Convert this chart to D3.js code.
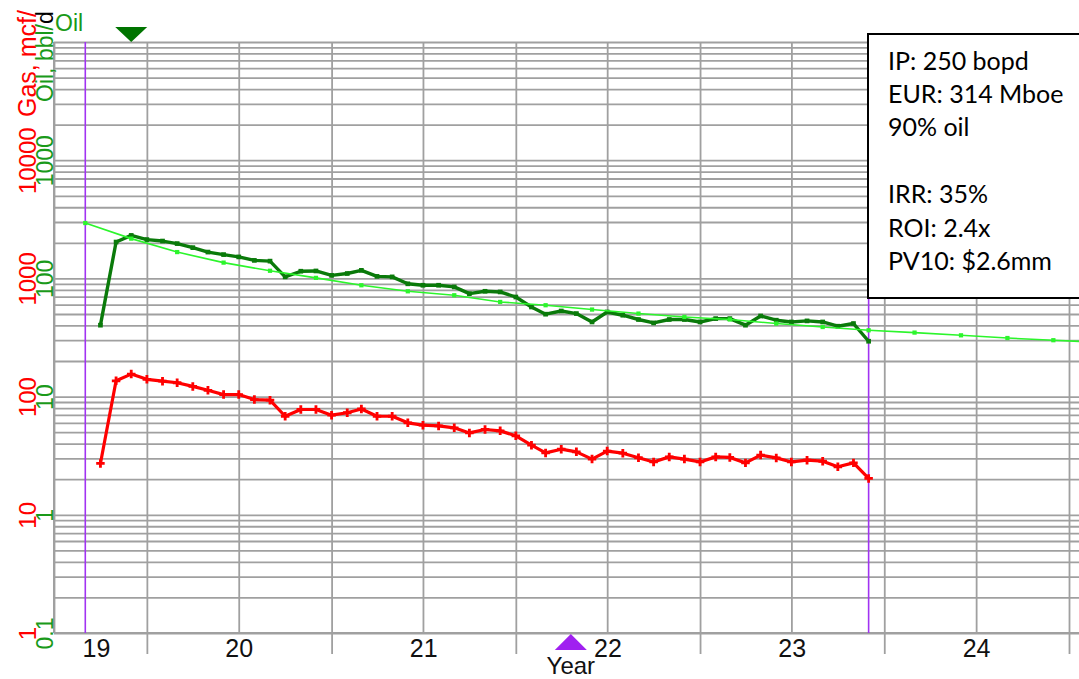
<!DOCTYPE html>
<html>
<head>
<meta charset="utf-8">
<script src="https://cdn.jsdelivr.net/npm/d3@7"></script>
<style>
  body { margin: 0; background: #fff; overflow: hidden; }
  svg { display: block; font-family: "Liberation Sans", Arial, sans-serif; }
</style>
</head>
<body>
<div id="chart"></div>
<script>
// monthly history, Oct 2019 .. Dec 2023
const historyStart = new Date(2019, 9, 1);
const historyStop = new Date(2024, 0, 1);
const oilRate = [40.2, 203, 231, 213, 207, 197, 182, 167, 159, 152, 142, 140,
  103, 115, 115.6, 106, 110, 117, 104, 103, 90, 87.5, 87.5, 84.7,
  74.3, 77.8, 76.8, 69.6, 57.3, 49.8, 53, 50.4, 42.8, 52, 48.8, 44.9,
  42, 44.9, 44.9, 42.8, 45.7, 45.7, 40.2, 48.1, 44.3, 42.8, 43.7, 42.8,
  39.4, 41.5, 29.4];
const gasRate = [27.2, 136, 155, 140, 135, 131, 122, 113, 104, 104, 94.4, 93.3,
  68.2, 77.8, 77.8, 69.6, 73, 78.5, 68.2, 68.2, 60, 57.3, 56.5, 54.4,
  49.3, 52.7, 51.3, 46.6, 38.8, 33.4, 35.9, 34.1, 29.6, 34.6, 33.2, 30.4,
  28, 30.9, 29.6, 28, 30.9, 30.6, 27.5, 32, 30.3, 28, 29, 28.4,
  25.5, 27.5, 20.3];

// quarterly type curve, Sep 2019 .. Mar 2025
const forecastStart = new Date(2019, 8, 1);
const forecastStop = new Date(2025, 3, 1);
const forecastRate = [294, 217, 167, 136, 116, 101, 87.5, 77.8, 72, 63.2, 59.3, 54.5,
  50.4, 47.2, 44.9, 41.5, 38.8, 36.4, 34.8, 33, 31.3, 30, 28.8];

const oilTicks = [0.1, 1, 10, 100, 1000];
const gasTicks = [1, 10, 100, 1000, 10000];
const yearLabels = [2019, 2020, 2021, 2022, 2023, 2024];
const peakDate = new Date(2019, 11, 1);
const cursorDate = new Date(2022, 3, 20);
const statsLines = ["IP: 250 bopd", "EUR: 314 Mboe", "90% oil", "", "IRR: 35%", "ROI: 2.4x", "PV10: $2.6mm"];

const W = 1079, H = 679;
const plotL = 54, plotT = 42, plotB = 633, plotR = 1079;

const svg = d3.select("#chart").append("svg")
    .attr("width", W)
    .attr("height", H);

const x = d3.scaleTime()
    .domain([new Date(2019, 6, 1), new Date(2025, 0, 1)])
    .range([plotL, 1069]);
const yOil = d3.scaleLog().domain([0.1, 10000]).range([plotB, plotT]);
const yGas = d3.scaleLog().domain([1, 100000]).range([plotB, plotT]);

const gridColor = "#a0a0a0";

// horizontal log grid
const gridVals = [];
[0.1, 1, 10, 100, 1000].forEach(d => {
    for (let k = 1; k < 10; k++) gridVals.push(k * d);
});
gridVals.push(10000);

svg.append("g")
    .attr("transform", `translate(${plotL},0)`)
    .call(d3.axisLeft(yOil).tickValues(gridVals).tickSize(-(plotR - plotL)).tickFormat(""))
    .call(g => g.select(".domain").remove())
    .call(g => g.selectAll("line").attr("stroke", gridColor).attr("stroke-width", 1.8));

// vertical grid every half year
const halfYears = d3.timeMonth.range(new Date(2019, 6, 1), new Date(2025, 1, 1), 6);
svg.append("g")
    .attr("transform", `translate(0,${plotB})`)
    .call(d3.axisBottom(x).tickValues(halfYears).tickSize(-(plotB - plotT)).tickFormat(""))
    .call(g => g.select(".domain").remove())
    .call(g => g.selectAll("line").attr("stroke", gridColor).attr("stroke-width", 1.8));

// year ticks below the axis
const yearStarts = d3.timeYear.range(new Date(2020, 0, 1), new Date(2025, 1, 1));
svg.append("g")
    .attr("transform", `translate(0,${plotB})`)
    .call(d3.axisBottom(x).tickValues(yearStarts).tickSize(21).tickFormat(""))
    .call(g => g.select(".domain").remove())
    .call(g => g.selectAll("line").attr("stroke", gridColor).attr("stroke-width", 1.8));

// axis lines
svg.append("line").attr("x1", plotL).attr("x2", plotR).attr("y1", plotB).attr("y2", plotB)
    .attr("stroke", gridColor).attr("stroke-width", 2);
svg.append("line").attr("x1", plotL).attr("x2", plotL).attr("y1", plotT).attr("y2", plotB)
    .attr("stroke", gridColor).attr("stroke-width", 2);

// production start / today markers
[new Date(2019, 8, 1), new Date(2023, 11, 1)].forEach(d => {
    svg.append("line")
        .attr("x1", x(d)).attr("x2", x(d))
        .attr("y1", plotT).attr("y2", plotB)
        .attr("stroke", "#a133f2").attr("stroke-width", 1.6);
});

// left axes, rotated labels
function rateAxis(scale, ticks, xPos, color, size) {
    svg.append("g")
        .attr("transform", `translate(${xPos},0)`)
        .call(d3.axisLeft(scale).tickValues(ticks).tickSize(0).tickFormat(d3.format("~g")))
        .call(g => g.select(".domain").remove())
        .call(g => g.selectAll("text")
            .attr("x", 0).attr("y", 0).attr("dy", 0)
            .attr("transform", "rotate(-90)")
            .attr("text-anchor", "middle")
            .attr("fill", color)
            .attr("font-size", size)
            .attr("font-family", "Liberation Sans, Arial, sans-serif"));
}
rateAxis(yGas, gasTicks, 36, "#ff0000", 24);
rateAxis(yOil, oilTicks, 53, "#1a9a1a", 23);

// titles (the top of the gas title runs off the canvas, as in the source)
svg.append("text")
    .attr("transform", "translate(36,117) rotate(-90)")
    .attr("fill", "#ff0000")
    .attr("font-size", 25)
    .text("Gas, mcf/");

const oilTitle = svg.append("text")
    .attr("transform", "translate(53,102) rotate(-90)")
    .attr("fill", "#1a9a1a")
    .attr("font-size", 23);
oilTitle.append("tspan").text("Oil, bbl/");
oilTitle.append("tspan").attr("fill", "#000").text("d");

svg.append("text")
    .attr("x", 55).attr("y", 31)
    .attr("fill", "#1a9a1a")
    .attr("font-size", 23)
    .text("Oil");

// year labels centred on the visible part of each year
const [d0, d1] = x.domain();
svg.append("g").selectAll("text")
    .data(yearLabels)
    .join("text")
    .attr("x", yr => {
        const a = Math.max(x(new Date(yr, 0, 1)), x(d0));
        const b = Math.min(x(new Date(yr + 1, 0, 1)), x(d1));
        return (a + b) / 2 - (yr === 2019 ? 4 : 0);
    })
    .attr("y", 657)
    .attr("text-anchor", "middle")
    .attr("font-size", 25)
    .attr("fill", "#111")
    .text(yr => String(yr).slice(2));

svg.append("text")
    .attr("x", x(cursorDate)).attr("y", 674)
    .attr("text-anchor", "middle")
    .attr("font-size", 24)
    .attr("fill", "#111")
    .text("Year");

// series
const histDates = d3.timeMonth.range(historyStart, historyStop);
const oilData = histDates.map((d, i) => ({ date: d, v: oilRate[i] }));
const gasData = histDates.map((d, i) => ({ date: d, v: gasRate[i] }));
const fcDates = d3.timeMonth.range(forecastStart, forecastStop, 3);
const fcData = fcDates.map((d, i) => ({ date: d, v: forecastRate[i] }));

function drawSeries(data, scale, color, width, symbol, size) {
    const line = d3.line()
        .x(d => x(d.date))
        .y(d => scale(d.v));
    svg.append("path")
        .datum(data)
        .attr("fill", "none")
        .attr("stroke", color)
        .attr("stroke-width", width)
        .attr("stroke-linejoin", "round")
        .attr("d", line);
    svg.append("g").selectAll("path")
        .data(data)
        .join("path")
        .attr("transform", d => `translate(${x(d.date)},${scale(d.v)})`)
        .attr("d", d3.symbol(symbol, size))
        .attr("fill", color);
}

drawSeries(gasData, yGas, "#ff0000", 3.2, d3.symbolCross, 40);
drawSeries(oilData, yOil, "#0a7a0a", 3.4, d3.symbolSquare, 22);
drawSeries(fcData, yOil, "#2cf52c", 1.6, d3.symbolSquare, 18);

// peak / cursor triangles
const px = x(peakDate);
svg.append("path")
    .attr("d", `M${px - 16},27L${px + 16},27L${px},42Z`)
    .attr("fill", "#007400");
const cx = x(cursorDate);
svg.append("path")
    .attr("d", `M${cx - 16},650L${cx + 16},650L${cx},634Z`)
    .attr("fill", "#a020f0");

// stats box
svg.append("rect")
    .attr("x", 868).attr("y", 34)
    .attr("width", 240).attr("height", 264)
    .attr("fill", "#fff")
    .attr("stroke", "#000")
    .attr("stroke-width", 2);

svg.append("g").selectAll("text")
    .data(statsLines)
    .join("text")
    .attr("x", 888)
    .attr("y", (d, i) => 69.5 + i * 33.4)
    .attr("font-family", "Lato, 'Open Sans', sans-serif")
    .attr("font-size", 25)
    .attr("fill", "#000")
    .text(d => d);
</script>
</body>
</html>
